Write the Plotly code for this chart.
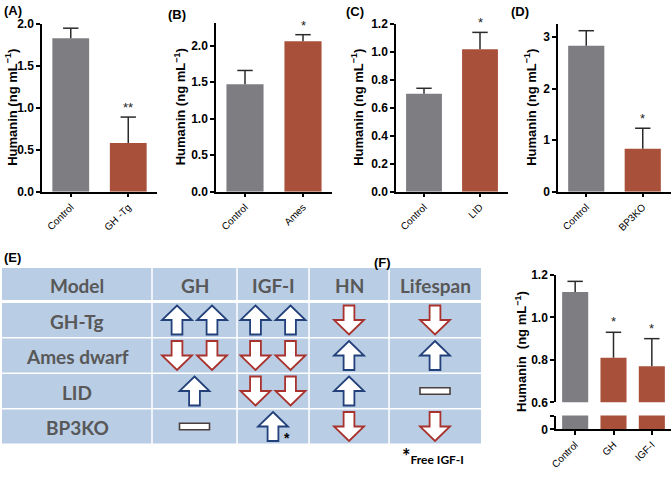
import plotly.graph_objects as go

W, H = 672, 478


def px(x):
    return x / W


def py(y):
    return 1 - y / H


GRAY = "#7E7E82"
RED = "#A9503A"
ERR = "#2b2b2b"
AX_FONT = "Liberation Sans, Arial, sans-serif"
TB_FONT = "Lato, 'Open Sans', sans-serif"
TXT = "#585858"

# ---------------- data ----------------
a_cats = ["Control", "GH -Tg"]
a_vals = [1.83, 0.58]
a_err = [0.12, 0.31]
a_sig = ["", "**"]

b_cats = ["Control", "Ames"]
b_vals = [1.47, 2.06]
b_err = [0.19, 0.09]
b_sig = ["", "*"]

c_cats = ["Control", "LID"]
c_vals = [0.70, 1.02]
c_err = [0.04, 0.12]
c_sig = ["", "*"]

d_cats = ["Control", "BP3KO"]
d_vals = [2.83, 0.83]
d_err = [0.29, 0.40]
d_sig = ["", "*"]

f_cats = ["Control", "GH", "IGF-I"]
f_vals = [1.12, 0.81, 0.77]
f_err = [0.05, 0.12, 0.13]
f_sig = ["", "*", "*"]

# table E: +2 two up arrows, -2 two down, +1 up, -1 down, 0 equal, 3 up with asterisk
tbl_header = ["Model", "GH", "IGF-I", "HN", "Lifespan"]
tbl_models = ["GH-Tg", "Ames dwarf", "LID", "BP3KO"]
tbl_gh = [2, -2, 1, 0]
tbl_igf = [2, -2, -2, 3]
tbl_hn = [-1, 1, 1, -1]
tbl_life = [-1, 1, 0, -1]

# ---------------- layout geometry (pixels) ----------------
panels = [
    dict(cats=a_cats, vals=a_vals, err=a_err, sig=a_sig, x0=42, x1=157, yt=24, yb=191.7,
         rng=[0, 2.0], dt=0.5, fmt=".1f", lab="A", lx=2, ly=10, tx=11),
    dict(cats=b_cats, vals=b_vals, err=b_err, sig=b_sig, x0=216, x1=332, yt=23, yb=191.7,
         rng=[0, 2.31], dt=0.5, fmt=".1f", lab="B", lx=166, ly=14, tx=180),
    dict(cats=c_cats, vals=c_vals, err=c_err, sig=c_sig, x0=396, x1=508, yt=24, yb=191.7,
         rng=[0, 1.2], dt=0.2, fmt=".1f", lab="C", lx=344, ly=12, tx=357),
    dict(cats=d_cats, vals=d_vals, err=d_err, sig=d_sig, x0=558, x1=671, yt=24, yb=191.7,
         rng=[0, 3.25], dt=1, fmt="d", lab="D", lx=509, ly=12, tx=530),
]

fig = go.Figure()
annotations = []
shapes = []

axis_line = dict(showline=True, linecolor="black", linewidth=1.5, ticks="outside",
                 ticklen=4, tickwidth=1.5, tickcolor="black", showgrid=False, zeroline=False)

ytitle = "Humanin (ng mL<sup>\u22121</sup>)"
YTICK = dict(family=AX_FONT, size=12, color="black", weight=700)
XTICK = dict(family=AX_FONT, size=10, color="black")


def add_bars(cats, vals, err, colors, xa, ya, width, with_err=True):
    fig.add_trace(go.Bar(
        x=cats, y=vals, xaxis=xa, yaxis=ya, width=width,
        marker=dict(color=colors, line=dict(width=0)),
        error_y=dict(type="data", array=err, arrayminus=[0] * len(err), symmetric=False,
                     color=ERR, thickness=1.5, width=0, visible=with_err),
        showlegend=False, hoverinfo="skip"))
    if with_err:
        fig.add_trace(go.Scatter(
            x=cats, y=[v + e for v, e in zip(vals, err)], xaxis=xa, yaxis=ya, mode="markers",
            marker=dict(symbol="line-ew", size=11, line=dict(color=ERR, width=1.5)),
            showlegend=False, hoverinfo="skip", cliponaxis=False))


for i, p in enumerate(panels, start=1):
    xa = "x" if i == 1 else f"x{i}"
    ya = "y" if i == 1 else f"y{i}"
    add_bars(p["cats"], p["vals"], p["err"], [GRAY, RED], xa, ya, 0.64)
    fig.layout[f"xaxis{'' if i == 1 else i}"] = dict(
        domain=[px(p["x0"]), px(p["x1"])], anchor=ya, type="category",
        range=[-0.5, len(p["cats"]) - 0.5], tickangle=-45, tickfont=XTICK, **axis_line)
    fig.layout[f"yaxis{'' if i == 1 else i}"] = dict(
        domain=[py(p["yb"]), py(p["yt"])], anchor=xa, range=p["rng"],
        dtick=p["dt"], tick0=0, tickformat=p["fmt"], tickfont=YTICK, **axis_line)
    for c, v, e, s in zip(p["cats"], p["vals"], p["err"], p["sig"]):
        if s:
            annotations.append(dict(x=c, y=v + e, xref=xa, yref=ya, text=s, showarrow=False,
                                    yanchor="bottom", yshift=0,
                                    font=dict(family=AX_FONT, size=13, color="#222")))
    annotations.append(dict(x=px(p["lx"]), y=py(p["ly"]), xref="paper", yref="paper",
                            text="(" + p["lab"] + ")", showarrow=False, xanchor="left",
                            yanchor="middle",
                            font=dict(family=AX_FONT, size=13, color="black", weight=700)))
    annotations.append(dict(x=px(p["tx"]), y=py((p["yt"] + p["yb"]) / 2), xref="paper",
                            yref="paper", text=ytitle, textangle=-90, showarrow=False,
                            xanchor="center", yanchor="middle",
                            font=dict(family=AX_FONT, size=13, color="black", weight=700)))

# ---------------- panel F (broken axis) ----------------
fx0, fx1 = 556, 671
f_up_top, f_up_bot = 275, 402.3
f_lo_top, f_lo_bot = 415.5, 429.3
f_colors = [GRAY, RED, RED]

add_bars(f_cats, f_vals, f_err, f_colors, "x5", "y5", 0.68)
add_bars(f_cats, f_vals, f_err, f_colors, "x6", "y6", 0.68, with_err=False)

fig.layout["xaxis5"] = dict(domain=[px(fx0), px(fx1)], anchor="y5", type="category",
                            range=[-0.5, 2.5], visible=False)
fig.layout["yaxis5"] = dict(domain=[py(f_up_bot), py(f_up_top)], anchor="x5",
                            range=[0.6, 1.2], dtick=0.2, tick0=0.6, tickformat=".1f",
                            tickfont=YTICK, **axis_line)
fig.layout["xaxis6"] = dict(domain=[px(fx0), px(fx1)], anchor="y6", type="category",
                            range=[-0.5, 2.5], tickangle=-45, tickfont=XTICK, **axis_line)
fig.layout["yaxis6"] = dict(domain=[py(f_lo_bot), py(f_lo_top)], anchor="x6",
                            range=[0, 0.1], tickvals=[0, 0.1], ticktext=["0", " "],
                            tickfont=YTICK, **axis_line)
for c, v, e, s in zip(f_cats, f_vals, f_err, f_sig):
    if s:
        annotations.append(dict(x=c, y=v + e, xref="x5", yref="y5", text=s, showarrow=False,
                                yanchor="bottom", yshift=1,
                                font=dict(family=AX_FONT, size=13, color="#222")))
annotations.append(dict(x=px(372), y=py(262), xref="paper", yref="paper", text="(F)",
                        showarrow=False, xanchor="left", yanchor="middle",
                        font=dict(family=AX_FONT, size=13, color="black", weight=700)))
annotations.append(dict(x=px(521), y=py(352), xref="paper", yref="paper",
                        text="Humanin\u00a0 (ng mL<sup>\u22121</sup>)", textangle=-90,
                        showarrow=False, xanchor="center", yanchor="middle",
                        font=dict(family=AX_FONT, size=13, color="black", weight=700)))

# ---------------- panel E (table) ----------------
annotations.append(dict(x=px(2), y=py(257), xref="paper", yref="paper", text="(E)",
                        showarrow=False, xanchor="left", yanchor="middle",
                        font=dict(family=AX_FONT, size=13, color="black", weight=700)))

col_edges = [2, 152, 237, 309, 389, 481]
t_top = 268
head_h = 32
head_gap = 3
row_h = 34
row_gap = 1.5
col_gap = 1.5
CELL = "#B9CDE5"
UP = "#22407A"
DOWN = "#A8322D"

row_tops = [t_top + head_h + head_gap + r * (row_h + row_gap) for r in range(len(tbl_models))]
row_bounds = [(t_top, t_top + head_h)] + [(t, t + row_h) for t in row_tops]


def rect(x0, y0, x1, y1, fill):
    return dict(type="rect", xref="paper", yref="paper", x0=px(x0), x1=px(x1),
                y0=py(y1), y1=py(y0), fillcolor=fill, line=dict(width=0), layer="below")


for (ry0, ry1) in row_bounds:
    for c in range(len(col_edges) - 1):
        cx0 = col_edges[c] + (col_gap / 2 if c > 0 else 0)
        cx1 = col_edges[c + 1] - (col_gap / 2 if c < len(col_edges) - 2 else 0)
        shapes.append(rect(cx0, ry0, cx1, ry1, CELL))

hfont = dict(family=TB_FONT, size=19, color=TXT, weight=700)
for c, h in enumerate(tbl_header):
    cx = (col_edges[c] + col_edges[c + 1]) / 2
    annotations.append(dict(x=px(cx), y=py(t_top + head_h / 2 + 1), xref="paper", yref="paper",
                            text=h, showarrow=False, xanchor="center", yanchor="middle",
                            font=hfont))
for r, m in enumerate(tbl_models):
    cy = row_tops[r] + row_h / 2
    annotations.append(dict(x=px((col_edges[0] + col_edges[1]) / 2), y=py(cy + 1),
                            xref="paper", yref="paper", text=m, showarrow=False,
                            xanchor="center", yanchor="middle", font=hfont))

AW, AH = 30, 29


def arrow(cx, cy, direction):
    sw = 0.18 * AW
    s = 1 if direction > 0 else -1
    top = cy - s * AH / 2
    hb = top + s * 0.5 * AH
    bot = cy + s * AH / 2
    pts = [(cx, top), (cx + AW / 2, hb), (cx + sw, hb), (cx + sw, bot),
           (cx - sw, bot), (cx - sw, hb), (cx - AW / 2, hb)]
    col = UP if direction > 0 else DOWN
    path = "M " + " L ".join(f"{px(x):.5f},{py(y):.5f}" for x, y in pts) + " Z"
    return dict(type="path", xref="paper", yref="paper", path=path, fillcolor="white",
                line=dict(color=col, width=1.8))


def equal_bar(cx, cy):
    return dict(type="rect", xref="paper", yref="paper", x0=px(cx - 15), x1=px(cx + 15),
                y0=py(cy + 3.2), y1=py(cy - 3.2), fillcolor="white",
                line=dict(color="#4A3F3F", width=1.6))


for c, col_vals in enumerate([tbl_gh, tbl_igf, tbl_hn, tbl_life], start=1):
    cx = (col_edges[c] + col_edges[c + 1]) / 2
    for r, v in enumerate(col_vals):
        cy = row_tops[r] + row_h / 2
        if abs(v) == 2:
            d = 1 if v > 0 else -1
            shapes.append(arrow(cx - 17.5, cy, d))
            shapes.append(arrow(cx + 17.5, cy, d))
        elif v == 1 or v == -1:
            shapes.append(arrow(cx, cy, v))
        elif v == 3:
            shapes.append(arrow(cx, cy, 1))
            annotations.append(dict(x=px(cx + 14), y=py(cy + 11), xref="paper", yref="paper",
                                    text="*", showarrow=False, xanchor="center",
                                    yanchor="middle",
                                    font=dict(family=AX_FONT, size=14, color="black",
                                              weight=700)))
        else:
            shapes.append(equal_bar(cx, cy))

annotations.append(dict(x=px(400), y=py(456), xref="paper", yref="paper",
                        text="<span style='font-size:20px'>*</span>"
                             "<span style='font-size:12px'>Free IGF-I</span>",
                        showarrow=False, xanchor="left", yanchor="middle",
                        font=dict(family=TB_FONT, size=12, color="black", weight=700)))

fig.update_layout(width=W, height=H,
                  margin=dict(l=0, r=0, t=0, b=0, autoexpand=False),
                  paper_bgcolor="white", plot_bgcolor="rgba(0,0,0,0)",
                  annotations=annotations, shapes=shapes, bargap=0.3,
                  showlegend=False)

fig.write_html("out.html", config={"displayModeBar": False},
               post_script="document.body.style.margin='0';document.body.style.padding='0';")
